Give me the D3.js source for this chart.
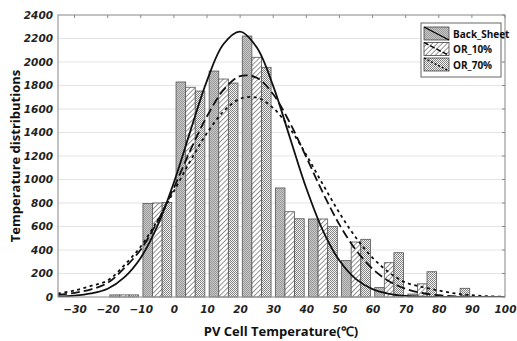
<!DOCTYPE html>
<html><head><meta charset="utf-8">
<script src="https://cdn.jsdelivr.net/npm/d3@7"></script>
<style>body{margin:0;background:#fff}svg{display:block}
.tk{font-family:"DejaVu Sans",sans-serif;font-size:10.5px;font-weight:bold;font-style:italic;fill:#222}
.ttl{font-family:"Open Sans",sans-serif;font-weight:bold;fill:#111}
</style>
</head><body><svg id="c" width="517" height="341"></svg>
<script>
// ---- data ----
const seriesNames = ["Back_Sheet", "OR_10%", "OR_70%"];
const binStarts = [-20, -10, 0, 10, 20, 30, 40, 50, 60, 70, 80];
const backSheet = [18, 795, 1830, 1923, 2221, 928, 664, 310, 80, 25, 4];
const or10 = [18, 800, 1785, 1855, 2040, 726, 664, 468, 292, 112, 4];
const or70 = [18, 805, 1753, 1821, 1955, 666, 601, 491, 377, 215, 74];
const curveX = [-35,-30,-25,-20,-15,-10,-5,0,5,10,15,20,25,30,35,40,45,50,55,60,65,70,75,80,85,90,95,100];
const curveBack = [4,11,30,70,167,335,603,975,1414,1842,2153,2258,2125,1795,1360,925,565,310,152,67,27,9,3,1,0,0,0,0];
const curveOr10 = [18,35,65,120,245,405,640,930,1250,1538,1762,1879,1866,1725,1484,1189,887,616,399,240,134,70,34,15,6,2,1,0];
const curveOr70 = [30,55,95,140,270,430,650,900,1160,1395,1580,1687,1697,1608,1437,1209,958,716,504,334,209,123,85,55,30,15,6,3];
const xTicks = [-30,-20,-10,0,10,20,30,40,50,60,70,80,90,100];
const yTicks = [0,200,400,600,800,1000,1200,1400,1600,1800,2000,2200,2400];

const svg = d3.select("#c");
const L = 58, R = 505, T = 15, B = 297;
const x = d3.scaleLinear().domain([-35, 100]).range([L, R]);
const y = d3.scaleLinear().domain([0, 2400]).range([B, T]);

// patterns
const defs = svg.append("defs");
const p1 = defs.append("pattern").attr("id","pBS").attr("patternUnits","userSpaceOnUse").attr("width",2).attr("height",2);
p1.append("rect").attr("width",2).attr("height",2).attr("fill","#c8c8c8");
p1.append("rect").attr("width",1).attr("height",1).attr("fill","#9a9a9a");
p1.append("rect").attr("x",1).attr("y",1).attr("width",1).attr("height",1).attr("fill","#9a9a9a");
const p2 = defs.append("pattern").attr("id","pOR10").attr("patternUnits","userSpaceOnUse").attr("width",3.5).attr("height",3.5).attr("patternTransform","rotate(45)");
p2.append("rect").attr("width",3.5).attr("height",3.5).attr("fill","#fff");
p2.append("line").attr("x1",0).attr("y1",0).attr("x2",0).attr("y2",3.5).attr("stroke","#8a8a8a").attr("stroke-width",1.8);
const p3 = defs.append("pattern").attr("id","pOR70").attr("patternUnits","userSpaceOnUse").attr("width",2).attr("height",2);
p3.append("rect").attr("width",2).attr("height",2).attr("fill","#f4f4f4");
p3.append("rect").attr("width",1).attr("height",1).attr("fill","#7e7e7e");
p3.append("rect").attr("x",1).attr("y",1).attr("width",1).attr("height",1).attr("fill","#8a8a8a");
const fills = ["url(#pBS)","url(#pOR10)","url(#pOR70)"];
defs.append("clipPath").attr("id","clip").append("rect").attr("x",L).attr("y",T).attr("width",R-L).attr("height",B-T);

// grid
svg.append("g").selectAll("line").data(yTicks.slice(1,-1)).join("line")
  .attr("x1",L).attr("x2",R).attr("y1",d=>y(d)).attr("y2",d=>y(d))
  .attr("stroke","#e4e4e4").attr("stroke-width",1);

// bars
const series = [backSheet, or10, or70];
const binW = 10;
const gap = 0.65;
const barW = (binW - 2*gap)/3;
const gBars = svg.append("g");
series.forEach((vals, si) => {
  gBars.append("g").selectAll("rect").data(binStarts.map((b,i)=>({b, v: vals[i]}))).join("rect")
    .attr("x", d => x(d.b + gap + si*barW))
    .attr("width", d => x(d.b + gap + (si+1)*barW) - x(d.b + gap + si*barW))
    .attr("y", d => y(d.v))
    .attr("height", d => B - y(d.v))
    .attr("fill", fills[si])
    .attr("stroke", "#555").attr("stroke-width", 0.8);
});

// curves
const line = d3.line().x(d=>x(d[0])).y(d=>y(d[1])).curve(d3.curveCatmullRom.alpha(0.5));
const curves = [
  {vals: curveBack, dash: null},
  {vals: curveOr10, dash: "9,4"},
  {vals: curveOr70, dash: "3,3.5"}
];
const gC = svg.append("g").attr("clip-path","url(#clip)");
curves.forEach(c => {
  gC.append("path").datum(curveX.map((xv,i)=>[xv, c.vals[i]]))
    .attr("d", line).attr("fill","none").attr("stroke","#111").attr("stroke-width",1.8)
    .attr("stroke-dasharray", c.dash);
});

// frame
svg.append("rect").attr("x",L).attr("y",T).attr("width",R-L).attr("height",B-T)
  .attr("fill","none").attr("stroke","#9a9a9a").attr("stroke-width",1.2);
svg.append("g").selectAll("line").data(xTicks).join("line")
  .attr("x1",d=>x(d)).attr("x2",d=>x(d)).attr("y1",T).attr("y2",T+3).attr("stroke","#888");
svg.append("g").selectAll("line").data(yTicks).join("line")
  .attr("x1",R).attr("x2",R-3).attr("y1",d=>y(d)).attr("y2",d=>y(d)).attr("stroke","#888");

// axes
const ya = svg.append("g").attr("transform",`translate(${L},0)`)
  .call(d3.axisLeft(y).tickValues(yTicks).tickFormat(d3.format("d")).tickSize(0).tickPadding(5));
ya.select(".domain").remove();
ya.attr("font-family",null).attr("font-size",null);
ya.selectAll("text").attr("class","tk");
const xa = svg.append("g").attr("transform",`translate(0,${B})`)
  .call(d3.axisBottom(x).tickValues(xTicks).tickFormat(d3.format("d")).tickSize(0).tickPadding(9));
xa.select(".domain").remove();
xa.attr("font-family",null).attr("font-size",null);
xa.selectAll("text").attr("class","tk");

// titles
svg.append("text").attr("class","ttl").attr("transform","translate(20,156) rotate(-90)").attr("text-anchor","middle")
  .style("font-size","13px").text("Temperature distributions");
svg.append("text").attr("class","ttl").attr("x",281).attr("y",336).attr("text-anchor","middle")
  .style("font-size","13px").text("PV Cell Temperature(℃)");

// legend
const lg = svg.append("g");
lg.append("rect").attr("x",421).attr("y",23).attr("width",80).attr("height",54)
  .attr("fill","#fff").attr("stroke","#666").attr("stroke-width",1);
const dashes = [null, "5,2", "2,2"];
seriesNames.forEach((n,i) => {
  const yy = 27 + i*15.5;
  lg.append("rect").attr("x",424).attr("y",yy).attr("width",25).attr("height",13)
    .attr("fill",fills[i]).attr("stroke","#444").attr("stroke-width",0.8);
  lg.append("line").attr("x1",424).attr("y1",yy).attr("x2",449).attr("y2",yy+13)
    .attr("stroke","#000").attr("stroke-width",1.4).attr("stroke-dasharray",dashes[i]);
  lg.append("text").attr("class","ttl").attr("x",453).attr("y",yy+10.5)
    .style("font-size","10px").text(n);
});
</script></body></html>
